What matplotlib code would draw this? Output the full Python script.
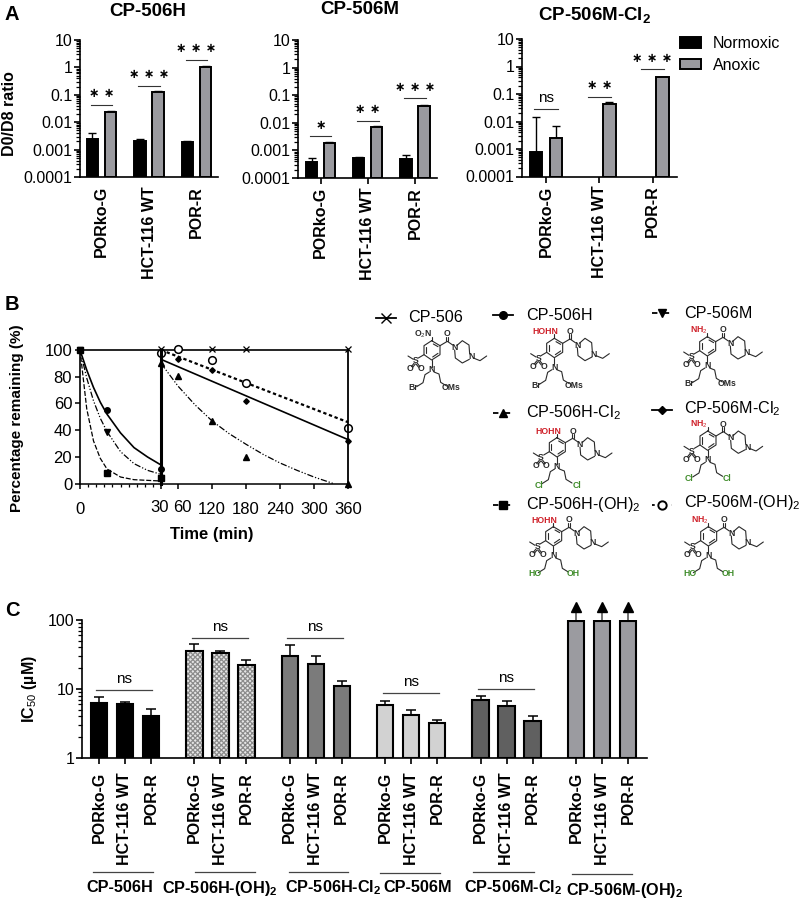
import numpy as np
import matplotlib
matplotlib.use("Agg")
import matplotlib.pyplot as plt
from matplotlib.ticker import LogLocator, NullFormatter

plt.rcParams["font.family"] = ["Liberation Sans", "DejaVu Sans"]
plt.rcParams["mathtext.fontset"] = "custom"
plt.rcParams["mathtext.rm"] = "Liberation Sans"
plt.rcParams["mathtext.bf"] = "Liberation Sans:bold"
plt.rcParams["mathtext.default"] = "rm"
plt.rcParams["hatch.linewidth"] = 0.9

W, H = 800, 901
cell_lines = ["PORko-G", "HCT-116 WT", "POR-R"]

# Panel A values (D0/D8 ratio) and tops of the error bars
a_titles = ["CP-506H", "CP-506M", "CP-506M-Cl$_2$"]
a_normoxic = [[0.0025, 0.0021, 0.0019],
              [0.00038, 0.00053, 0.0005],
              [0.00078, np.nan, np.nan]]
a_normoxic_top = [[0.0041, 0.0025, 0.0021],
                  [0.00052, 0.00058, 0.00066],
                  [0.015, np.nan, np.nan]]
a_anoxic = [[0.024, 0.13, 1.05],
            [0.0018, 0.0072, 0.042],
            [0.0026, 0.045, 0.4]]
a_anoxic_top = [[0.026, 0.14, 1.12],
                [0.0021, 0.0079, 0.045],
                [0.007, 0.053, 0.43]]
a_sig = [["**", "***", "***"], ["*", "**", "***"], ["ns", "**", "***"]]
a_sig_y = [[0.043, 0.21, 1.86], [0.0032, 0.0117, 0.076], [0.029, 0.079, 0.78]]
a_ticks = [0.0001, 0.001, 0.01, 0.1, 1, 10]
a_ticklabels = ["0.0001", "0.001", "0.01", "0.1", "1", "10"]

# Panel B, readings from the picture
t_markers_1 = [0, 10, 30]
h_pts = [100, 55, 11]
m_pts = [100, 39, 4]
h_oh_pts = [100, 8, 4]
t_curve_1 = [0, 2.5, 5, 7.5, 10, 15, 20, 25, 30]
h_curve = [100, 85, 72, 61, 52, 38, 27, 20, 14]
m_curve = [100, 79, 62, 49, 39, 24, 15, 10, 7]
h_oh_curve = [100, 56, 32, 19, 11, 5, 3, 2.5, 2]

t_markers_2 = [30, 60, 120, 180, 360]
cp506_pts = [100.5, 100.5, 100.5, 100.5, 100.5]
m_cl_pts = [97, 93, 85, 62, 32]
m_oh_pts = [98, 100.5, 92.5, 75.5, 42]
h_cl_pts = [90, 80.5, 47, 20, 0]
t_line_2 = [30, 360]
cp506_line = [100, 100]
m_cl_line = [93, 33]
m_oh_line = [100, 46]
t_curve_2 = [30, 60, 90, 120, 150, 180, 210, 240, 270, 300, 335]
h_cl_curve = [90, 73, 59, 47, 37.5, 29.5, 22, 15.5, 10, 5, 0]

# Panel C values (IC50, uM)
c_groups = ["CP-506H", "CP-506H-(OH)$_2$", "CP-506H-Cl$_2$", "CP-506M",
            "CP-506M-Cl$_2$", "CP-506M-(OH)$_2$"]
c_values = [[6.2, 6.1, 4.07], [35.5, 32.9, 22.5], [30, 23, 11],
            [5.77, 4.2, 3.15], [6.9, 5.7, 3.4], [97, 97, 97]]
c_tops = [[7.5, 6.5, 5.15], [45.5, 35.5, 26.6], [43.9, 30.4, 13.2],
          [6.75, 4.9, 3.57], [8, 6.7, 4.08], [140, 140, 140]]
c_colors = ["#000000", "#cfcfcf", "#7b7b7b", "#d2d2d2", "#606060", "#9b9ba0"]
c_ns_y = [9.5, 54.3, 54.3, 8.7, 9.84]
c_arrow = 153


def axes_px(left, top, right, bottom):
    return fig.add_axes([left / W, 1 - bottom / H, (right - left) / W, (bottom - top) / H])


def style_axes(ax):
    for side in ["top", "right"]:
        ax.spines[side].set_visible(False)
    for side in ["left", "bottom"]:
        ax.spines[side].set_linewidth(1.2)
    ax.patch.set_alpha(0)


def log_minor(ax):
    ax.yaxis.set_minor_locator(LogLocator(base=10, subs=range(2, 10), numticks=20))
    ax.yaxis.set_minor_formatter(NullFormatter())
    ax.tick_params(axis="y", which="minor", length=2.6, width=0.9)
    ax.tick_params(axis="y", which="major", length=4.5, width=1.2, labelsize=11.5, pad=1)


fig = plt.figure(figsize=(W / 100, H / 100), dpi=100)

# ---- Panel A
a_boxes = [(80, 40, 218, 177, 101.5, 47.5),
           (298, 40, 437, 178, 320.5, 47.3),
           (522, 39, 677, 176.5, 546, 53.3)]
a_width = [0.24, 0.24, 0.235]
a_off = [0.19, 0.19, 0.19]
bar_handles = None
for i, (l, t, r, b, x0, step) in enumerate(a_boxes):
    ax = axes_px(l, t, r, b)
    style_axes(ax)
    ax.set_yscale("log")
    ax.set_ylim(1e-4, 10)
    ax.set_xlim((l - x0) / step, (r - x0) / step)
    x = np.arange(3)
    n = np.array(a_normoxic[i])
    an = np.array(a_anoxic[i])
    n_top = np.array(a_normoxic_top[i])
    an_top = np.array(a_anoxic_top[i])
    b1 = ax.bar(x - a_off[i], n - 1e-4, a_width[i], bottom=1e-4, color="black",
                edgecolor="black", linewidth=1.4, label="Normoxic", zorder=2)
    b2 = ax.bar(x + a_off[i], an - 1e-4, a_width[i], bottom=1e-4, color="#9a9a9f",
                edgecolor="black", linewidth=1.4, label="Anoxic", zorder=2)
    ax.errorbar(x - a_off[i], n, yerr=[np.zeros(3), n_top - n], fmt="none", ecolor="black",
                elinewidth=1, capsize=2.8, capthick=1, zorder=1)
    ax.errorbar(x + a_off[i], an, yerr=[np.zeros(3), an_top - an], fmt="none", ecolor="black",
                elinewidth=1, capsize=2.8, capthick=1, zorder=1)
    ax.set_yticks(a_ticks)
    ax.set_yticklabels(a_ticklabels)
    log_minor(ax)
    ax.set_xticks(x)
    ax.set_xticklabels(cell_lines, rotation=90, fontsize=11.5, fontweight="bold")
    ax.tick_params(axis="x", length=0 if i == 0 else 4, width=1.2, pad=6.5 if i == 0 else 2.5)
    for j in range(3):
        half = 0.23 if i < 2 else 0.22
        ax.plot([j - half, j + half], [a_sig_y[i][j]] * 2, color="#333333", lw=0.8, clip_on=False)
        if a_sig[i][j] == "ns":
            ax.annotate("ns", (j, a_sig_y[i][j]), xytext=(0, 3), textcoords="offset points",
                        ha="center", va="bottom", fontsize=11)
        else:
            label = " ".join("\u2217" * len(a_sig[i][j]))
            ax.annotate(label, (j, a_sig_y[i][j]), xytext=(0, 3.5), textcoords="offset points",
                        ha="center", va="bottom", fontsize=9, fontweight="bold", family="DejaVu Sans")
    if i == 2:
        bar_handles = [b1, b2]
    if i == 0:
        ax.set_ylabel("D0/D8 ratio", fontsize=11.5, fontweight="bold")
        ax.yaxis.set_label_coords(-0.46, 0.46)

fig.legend(bar_handles, ["Normoxic", "Anoxic"], loc="upper left",
           bbox_to_anchor=(680 / W, 1 - 36 / H), frameon=False, fontsize=11.5,
           borderpad=0, borderaxespad=0, handlelength=1.3, handleheight=0.62,
           handletextpad=0.75, labelspacing=0.42)

# ---- Panel B
ax_l = axes_px(80, 350, 161, 483.7)
ax_r = axes_px(161, 350, 348, 483.7)
for ax in (ax_l, ax_r):
    ax.set_ylim(0, 100)
    ax.patch.set_alpha(0)
    ax.spines["top"].set_visible(False)
    ax.spines["bottom"].set_linewidth(1.1)
ax_l.spines["right"].set_visible(False)
ax_l.spines["left"].set_linewidth(1.2)
ax_r.spines["left"].set_linewidth(2.2)
ax_r.spines["right"].set_linewidth(1.3)

ax_l.set_xlim(0, 30)
ax_l.set_xticks([0, 30])
ax_l.set_xticklabels(["0", ""])
ax_l.set_xticks(np.arange(0, 30, 3), minor=True)
ax_l.set_yticks([0, 20, 40, 60, 80, 100])
ax_l.tick_params(axis="y", length=3.6, width=1.1, labelsize=12, pad=2)
ax_l.tick_params(axis="x", which="major", length=3.6, width=1.1, labelsize=12, pad=9.4)
ax_l.tick_params(axis="x", which="minor", length=2.2, width=0.9)
ax_l.set_ylabel("Percentage remaining (%)", fontsize=11, fontweight="bold")
ax_l.yaxis.set_label_coords(-0.69, 0.49)

ax_r.set_xlim(30, 360)
ax_r.set_xticks([60, 120, 180, 240, 300, 360])
ax_r.set_xticklabels(["", "120", "180", "240", "300", "360"])
ax_r.set_yticks([])
ax_r.tick_params(axis="x", length=3.6, width=1.1, labelsize=12, pad=9.4)

dash_dots = (0, (5, 1.5, 1, 1.5, 1, 1.5))
ax_l.plot([0, 30], cp506_line, color="black", lw=1.2, clip_on=False)
ax_l.plot(t_curve_1, h_curve, color="black", lw=1.2, clip_on=False)
ax_l.plot(t_curve_1, m_curve, color="black", lw=0.9, ls=dash_dots, clip_on=False)
ax_l.plot(t_curve_1, h_oh_curve, color="black", lw=0.9, ls=(0, (4, 1.5)), clip_on=False)
ax_l.plot(t_markers_1, h_pts, "o", color="black", ms=4, clip_on=False)
ax_l.plot(t_markers_1, m_pts, "v", color="black", ms=4, clip_on=False)
ax_l.plot(t_markers_1, h_oh_pts, "s", color="black", ms=4.5, clip_on=False)

ax_r.plot(t_line_2, cp506_line, color="black", lw=1.2, clip_on=False)
ax_r.plot(t_line_2, m_cl_line, color="black", lw=1.2, clip_on=False)
ax_r.plot(t_line_2, m_oh_line, color="black", lw=1.6, ls=(0, (1.5, 1.2)), clip_on=False)
ax_r.plot(t_curve_2, h_cl_curve, color="black", lw=0.9, ls=dash_dots, clip_on=False)
ax_r.plot(t_markers_2, cp506_pts, "x", color="black", ms=4.5, mew=0.9, clip_on=False)
ax_r.plot(t_markers_2, m_cl_pts, "D", color="black", ms=2.8, clip_on=False)
ax_r.plot(t_markers_2, h_cl_pts, "^", color="black", ms=3.8, clip_on=False)
ax_r.plot(t_markers_2, m_oh_pts, "o", color="black", mfc="white", mew=1.1, ms=5.5, clip_on=False)

# ---- Panel C
ax_c = axes_px(82, 620, 647, 757.7)
style_axes(ax_c)
ax_c.set_yscale("log")
ax_c.set_ylim(1, 100)
ax_c.set_xlim(-0.654, 21.08)
group_gap = 3.67
tick_x, tick_lab = [], []
for g, vals in enumerate(c_values):
    x = g * group_gap + np.arange(3)
    vals = np.array(vals)
    tops = np.array(c_tops[g])
    face = c_colors[g]
    if g == 1:
        ax_c.bar(x, vals - 1, 0.63, bottom=1, color="#e6e6e6", edgecolor="#8c8c8c",
                 hatch="xxxxxxx", linewidth=0, zorder=2)
        ax_c.bar(x, vals - 1, 0.63, bottom=1, fill=False, edgecolor="black", linewidth=1.5, zorder=3)
    else:
        ax_c.bar(x, vals - 1, 0.63, bottom=1, color=face, edgecolor="black", linewidth=1.5, zorder=2)
    if g < 5:
        ax_c.errorbar(x, vals, yerr=[np.zeros(3), tops - vals], fmt="none", ecolor="black",
                      elinewidth=1.1, capsize=3.8, capthick=1.1, zorder=1)
        ax_c.plot([x[0] - 0.1, x[2] + 0.05], [c_ns_y[g]] * 2, color="#444444", lw=0.9)
        ax_c.annotate("ns", (x[1] - 0.02, c_ns_y[g]), xytext=(0, 3), textcoords="offset points",
                      ha="center", va="bottom", fontsize=11)
    else:
        ax_c.vlines(x, vals, tops, color="#666666", lw=1.3, clip_on=False, zorder=1)
        ax_c.plot(x, [c_arrow] * 3, "^", color="black", ms=6.5, clip_on=False)
    tick_x.extend(x)
    tick_lab.extend(cell_lines)
ax_c.set_yticks([1, 10, 100])
ax_c.set_yticklabels(["1", "10", "100"])
log_minor(ax_c)
ax_c.set_xticks(tick_x)
ax_c.set_xticklabels(tick_lab, rotation=90, fontsize=11.5, fontweight="bold")
ax_c.tick_params(axis="x", length=4, width=1.2, pad=6.3)
ax_c.set_ylabel("IC$_{50}$ (\u00b5M)", fontsize=11.5, fontweight="bold")
ax_c.yaxis.set_label_coords(-0.076, 0.5)

# ---- Everything placed on the page: titles, panel letters, compound keys
ov = fig.add_axes([0, 0, 1, 1], zorder=20)
ov.set_xlim(0, W)
ov.set_ylim(H, 0)
ov.axis("off")

ov.text(148, 11, "CP-506H", fontsize=13.5, fontweight="bold", ha="center", va="center")
ov.text(360, 9, "CP-506M", fontsize=13.5, fontweight="bold", ha="center", va="center")
ov.text(595, 15, r"CP-506M-Cl$\mathbf{_2}$", fontsize=13.5, fontweight="bold", ha="center", va="center")
for letter, lx, ly in [("A", 12, 14), ("B", 12, 305), ("C", 12, 610)]:
    ov.text(lx, ly, letter, fontsize=14.5, fontweight="bold", ha="center", va="center")
ov.text(212, 534, "Time (min)", fontsize=12, fontweight="bold", ha="center", va="center")
ov.text(160, 507, "30", fontsize=12, ha="center", va="center")
ov.text(182, 507, "60", fontsize=12, ha="center", va="center")

# group captions under panel C
cap_x = [120, 220, 333, 418, 513, 625]
cap_y = [887, 889, 888, 888, 888, 890]
bar_l = [92.7, 195, 288.7, 380, 473, 571.7]
bar_r = [152.7, 255, 348.3, 440, 534, 631.7]
bar_y = [871.7, 871.7, 871.7, 873, 871.7, 874]
for name, cx, cy, l, r, by in zip(c_groups, cap_x, cap_y, bar_l, bar_r, bar_y):
    name = name.replace("$_2$", r"$\mathbf{_2}$")
    ov.text(cx, cy, name, fontsize=11.7, fontweight="bold", ha="center", va="center")
    ov.plot([l, r], [by, by], color="#444444", lw=0.9)


def molecule(ox, oy, amine, amine_color, left, right, chain_color):
    bonds = [
        [(553, 130), (578, 145), (578, 172), (553, 188), (530, 172), (530, 145), (553, 130)],
        [(558, 140), (572, 148)], [(572, 168), (556, 179)], [(536, 168), (536, 149)],
        [(578, 145), (600, 132), (616, 143)],
        [(597, 132), (597, 118)], [(603, 132), (603, 118)],
        [(628, 145), (645, 130), (665, 143), (667, 170)],
        [(666, 186), (645, 197), (624, 182), (622, 158)],
        [(678, 182), (698, 190), (718, 176)],
        [(530, 172), (513, 182)], [(498, 186), (482, 176)],
        [(500, 198), (492, 208)], [(504, 200), (496, 210)],
        [(510, 198), (518, 208)], [(506, 200), (514, 210)],
        [(553, 188), (553, 208)],
        [(546, 224), (533, 232), (527, 256), (508, 268)],
        [(560, 224), (575, 230), (580, 255), (598, 266)],
        [(553, 130), (553, 118)],
    ]
    for seg in bonds:
        xs = [370 + (p[0] + ox) / 3 for p in seg]
        ys = [295 + (p[1] + oy) / 3 for p in seg]
        ov.plot(xs, ys, color="#2a2a2a", lw=0.8, solid_capstyle="round")
    labels = [(amine, 527, 111, amine_color), ("O", 600, 110, "#2a2a2a"), ("N", 622, 151, "#2a2a2a"),
              ("N", 672, 178, "#2a2a2a"), ("S", 505, 190, "#2a2a2a"), ("O", 489, 214, "#2a2a2a"),
              ("O", 521, 214, "#2a2a2a"), ("N", 553, 216, "#2a2a2a"),
              (left, 498, 272, chain_color), (right, 612, 272, chain_color)]
    for txt, px, py, c in labels:
        ov.text(370 + (px + ox) / 3, 295 + (py + oy) / 3, txt, color=c, fontsize=6.2,
                fontweight="bold", ha="center", va="center")


red = "#cf2029"
green = "#3f8c2a"
grey = "#2a2a2a"
molecule(-368, 7, "O$_2$N", grey, "Br", "OMs", grey)
molecule(0, 0, "HOHN", red, "Br", "OMs", grey)
molecule(459, -5, "NH$_2$", red, "Br", "OMs", grey)
molecule(8, 298, "HOHN", red, "Cl", "Cl", green)
molecule(460, 278, "NH$_2$", red, "Cl", "Cl", green)
molecule(-3, 565, "HOHN", red, "HO", "OH", green)
molecule(462, 565, "NH$_2$", red, "HO", "OH", green)

key_names = ["CP-506", "CP-506H", "CP-506M", "CP-506H-Cl$_2$", "CP-506M-Cl$_2$",
             "CP-506H-(OH)$_2$", "CP-506M-(OH)$_2$"]
key_x = [386, 503, 662, 503, 662, 503, 662]
key_y = [318, 315, 313, 413, 410, 505, 505]
text_x = [408, 526, 684, 526, 684, 526, 684]
text_y = [318, 315, 313, 413, 409, 505, 503]
key_marker = ["x", "o", "v", "^", "D", "s", "o"]
key_ls = ["-", "-", (0, (3, 3.5)), (0, (3, 3.5)), "-", (0, (3, 3.5)), (0, (1.5, 4))]
key_ms = [6.5, 5.5, 5.5, 5.5, 3.8, 5.5, 6]
for nm, kx, ky, tx, ty, mk, ls, ms in zip(key_names, key_x, key_y, text_x, text_y, key_marker, key_ls, key_ms):
    ov.plot([kx - 10, kx + 10], [ky, ky], color="black", lw=1.3, ls=ls)
    if nm.endswith("M-(OH)$_2$"):
        ov.plot(kx, ky, mk, color="black", mfc="white", mew=1.4, ms=ms)
    else:
        ov.plot(kx, ky, mk, color="black", mew=1, ms=ms)
    ov.text(tx, ty, nm, fontsize=11.6, ha="left", va="center")

fig.savefig("out.png", dpi=100)
